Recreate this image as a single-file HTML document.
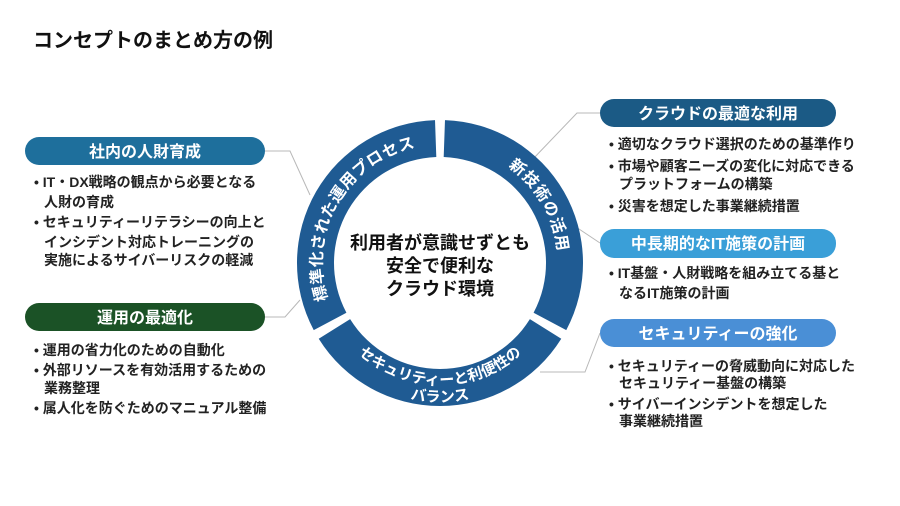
<!DOCTYPE html>
<html><head><meta charset="utf-8"><style>
html,body{margin:0;padding:0;background:#fff;}
svg{display:block;}
text{font-family:"Liberation Sans","Noto Sans CJK JP",sans-serif;font-weight:bold;}
</style></head><body>
<svg width="900" height="506" viewBox="0 0 900 506" xmlns="http://www.w3.org/2000/svg">
<text x="33" y="47" font-size="20" fill="#111">コンセプトのまとめ方の例</text>

<g stroke="#b8b8b8" stroke-width="1" fill="none">
<polyline points="265,151 290,151 310,195"/>
<polyline points="265,317 285,317 300,300"/>
<polyline points="600,113 577,113 532,160"/>
<polyline points="600,243 573,225"/>
<polyline points="600,333 585,372 540,372"/>
</g>

<g fill="#1f5b93">
<path d="M444.99,120.09 A143,143 0 0 1 566.26,330.14 L533.59,312.77 A106,106 0 0 0 443.70,157.06 Z"/>
<path d="M561.27,338.78 A143,143 0 0 1 318.73,338.78 L350.11,319.17 A106,106 0 0 0 529.89,319.17 Z"/>
<path d="M313.74,330.14 A143,143 0 0 1 435.01,120.09 L436.30,157.06 A106,106 0 0 0 346.41,312.77 Z"/>
</g>
<defs>
<path id="pa" d="M444.12,145.07 A118,118 0 0 1 544.18,318.40"/>
<path id="pc" d="M335.82,318.40 A118,118 0 0 1 435.88,145.07"/>
<path id="pb1" d="M336.54,327.65 A122,122 0 0 0 543.46,327.65"/>
<path id="pb2" d="M322.13,336.66 A139,139 0 0 0 557.87,336.66"/>
</defs>
<g fill="#fff" font-size="16">
<text letter-spacing="1"><textPath href="#pa" startOffset="50%" text-anchor="middle">新技術の活用</textPath></text>
<text letter-spacing="0.5"><textPath href="#pc" startOffset="50%" text-anchor="middle">標準化された運用プロセス</textPath></text>
<text font-size="15"><textPath href="#pb1" startOffset="50%" text-anchor="middle">セキュリティーと利便性の</textPath></text>
<text font-size="15"><textPath href="#pb2" startOffset="50%" text-anchor="middle">バランス</textPath></text>
</g>
<g font-size="18" fill="#111" text-anchor="middle">
<text x="440" y="249">利用者が意識せずとも</text>
<text x="440" y="272">安全で便利な</text>
<text x="440" y="295">クラウド環境</text>
</g>

<rect x="25" y="137" width="240" height="28" rx="14" fill="#1e6f9c"/>
<rect x="25" y="303" width="240" height="28" rx="14" fill="#1b5226"/>
<rect x="600" y="99" width="236" height="28" rx="14" fill="#1b5a85"/>
<rect x="600" y="229" width="236" height="29" rx="14" fill="#3a9fd8"/>
<rect x="600" y="319" width="236" height="28" rx="14" fill="#4a8fd6"/>
<g fill="#fff" font-size="16" text-anchor="middle">
<text x="145" y="157">社内の人財育成</text>
<text x="145" y="323">運用の最適化</text>
<text x="718" y="119">クラウドの最適な利用</text>
<text x="718" y="249">中長期的なIT施策の計画</text>
<text x="718" y="339">セキュリティーの強化</text>
</g>

<g fill="#222" font-size="14">
<text x="34" y="187">• IT・DX戦略の観点から必要となる</text>
<text x="44" y="207">人財の育成</text>
<text x="34" y="227">• セキュリティーリテラシーの向上と</text>
<text x="44" y="247">インシデント対応トレーニングの</text>
<text x="44" y="265">実施によるサイバーリスクの軽減</text>

<text x="34" y="355">• 運用の省力化のための自動化</text>
<text x="34" y="375">• 外部リソースを有効活用するための</text>
<text x="44" y="393">業務整理</text>
<text x="34" y="413">• 属人化を防ぐためのマニュアル整備</text>

<text x="609" y="149">• 適切なクラウド選択のための基準作り</text>
<text x="609" y="171">• 市場や顧客ニーズの変化に対応できる</text>
<text x="619" y="189">プラットフォームの構築</text>
<text x="609" y="211">• 災害を想定した事業継続措置</text>

<text x="609" y="278">• IT基盤・人財戦略を組み立てる基と</text>
<text x="619" y="298">なるIT施策の計画</text>

<text x="609" y="371">• セキュリティーの脅威動向に対応した</text>
<text x="619" y="388">セキュリティー基盤の構築</text>
<text x="609" y="409">• サイバーインシデントを想定した</text>
<text x="619" y="426">事業継続措置</text>
</g>
</svg>
</body></html>
